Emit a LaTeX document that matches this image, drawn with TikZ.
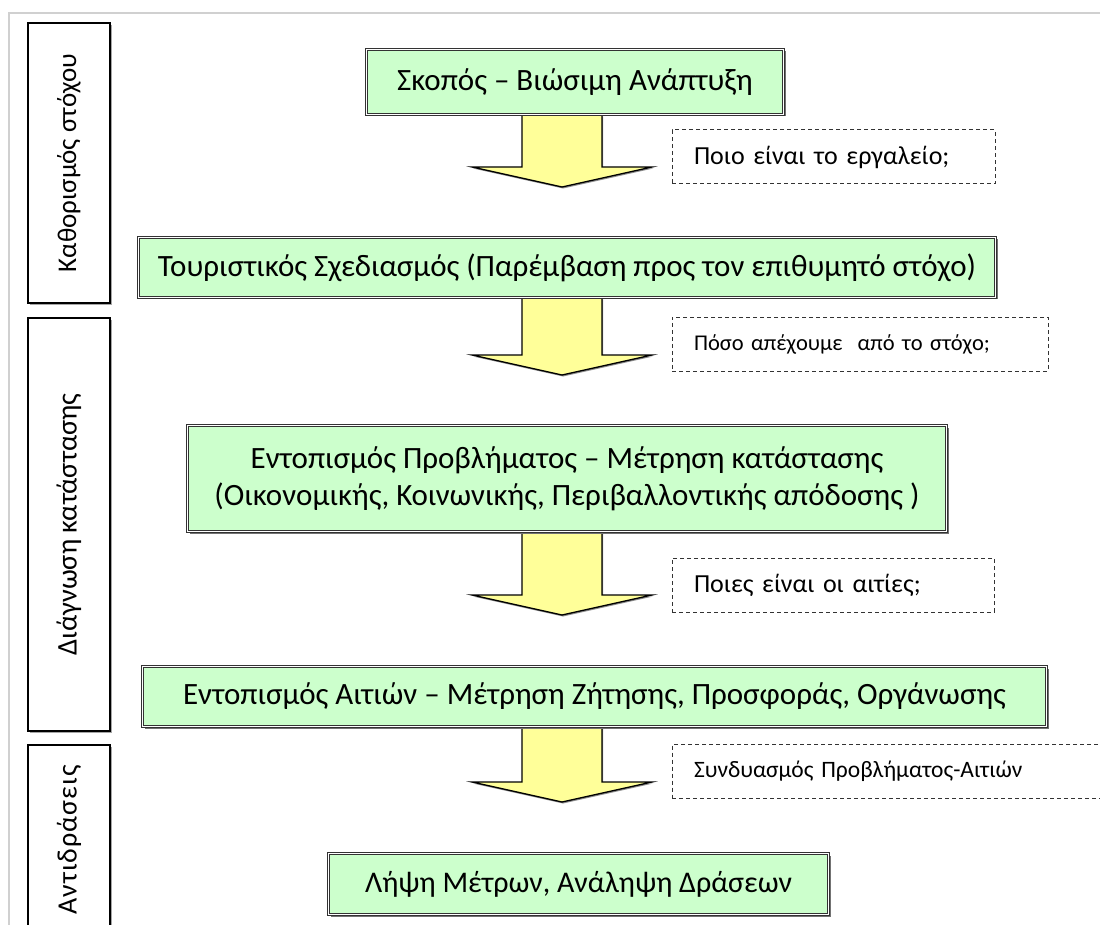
\documentclass[tikz,border=0pt]{standalone}
\usepackage{fontspec}
\setmainfont{Carlito}
\usetikzlibrary{shadows}
\pgfdeclarelayer{bg}
\pgfsetlayers{bg,main}
\definecolor{stagegreen}{RGB}{204,255,204}
\definecolor{arrowyellow}{RGB}{255,255,153}
\definecolor{framegray}{RGB}{208,208,208}
\tikzset{
	stage/.style = {rectangle, fill = stagegreen, draw = black!80, double = white, double distance = 1.2pt, line width = 0.9pt, drop shadow = {shadow xshift = 2pt, shadow yshift = -2pt, fill = black!55, opacity = 1}, font = \fontsize{31}{37}\selectfont, align = center, inner sep = 0pt},
	phase/.style = {rectangle, draw = black, line width = 2pt, fill = white, drop shadow = {shadow xshift = 2pt, shadow yshift = -2pt, fill = black!35, opacity = 1}, font = \fontsize{27}{32}\selectfont, inner sep = 0pt},
	question/.style = {rectangle, draw = black!80, line width = 1pt, dash pattern = on 4pt off 3pt, align = left, inner xsep = 22pt, inner ysep = 0pt, minimum height = 54pt, font = \fontsize{26}{31}\selectfont},
	blockarrow/.style = {fill = arrowyellow, draw = black, line width = 1.3pt, line join = miter, drop shadow = {shadow xshift = 1pt, shadow yshift = -1.5pt, fill = black!45, opacity = 1}}
}
\begin{document}
\begin{tikzpicture}[x = 1pt, y = -1pt]
	\useasboundingbox (0,0) rectangle (1100,925);
	\draw [framegray, line width = 1.5pt] (9,925) -- (9,13) -- (1100,13);

	%% phases
	\node (goal) [phase, minimum width = 82pt, minimum height = 280pt] at (69,163) {\rotatebox{90}{Καθορισμός στόχου}};
	\node (diag) [phase, minimum width = 82pt, minimum height = 413pt, font = \fontsize{28.5}{33}\selectfont] at (69,524.5) {\rotatebox{90}{Διάγνωση κατάστασης}};
	\node (react) [phase, minimum width = 82pt, minimum height = 190pt, font = \fontsize{28}{32}\selectfont\addfontfeatures{LetterSpace = 4}] at (69,840) {\rotatebox{90}{Αντιδράσεις}};

	%% nodes
	\node (s1) [stage, minimum width = 417pt, minimum height = 65pt] at (575,82) {Σκοπός – Βιώσιμη Ανάπτυξη};
	\node (s2) [stage, minimum width = 857pt, minimum height = 60pt] at (567,267.5) {Τουριστικός Σχεδιασμός (Παρέμβαση προς τον επιθυμητό στόχο)};
	\node (s3) [stage, minimum width = 759pt, minimum height = 106pt] at (567,478.5) {Εντοπισμός Προβλήματος – Μέτρηση κατάστασης\\(Οικονομικής, Κοινωνικής, Περιβαλλοντικής απόδοσης )};
	\node (s4) [stage, minimum width = 904pt, minimum height = 60pt] at (594.5,696.5) {Εντοπισμός Αιτιών – Μέτρηση Ζήτησης, Προσφοράς, Οργάνωσης};
	\node (s5) [stage, minimum width = 500pt, minimum height = 61pt, font = \fontsize{30}{36}\selectfont] at (578.5,884) {Λήψη Μέτρων, Ανάληψη Δράσεων};

	%% questions
	\node (q1) [question, text width = 279pt] at (833.5,157) {Ποιο είναι το εργαλείο;};
	\node (q2) [question, text width = 332pt, font = \fontsize{22.5}{27}\selectfont] at (860,344) {Πόσο απέχουμε~ από το στόχο;};
	\node (q3) [question, text width = 278pt] at (833,585) {Ποιες είναι οι αιτίες;};
	\node (q4) [question, text width = 394pt, font = \fontsize{23.5}{28}\selectfont] at (891,771.5) {Συνδυασμός Προβλήματος-Αιτιών};

	%% arrows
	\begin{pgfonlayer}{bg}
	\foreach \b/\y in {s1/167, s2/355, s3/595, s4/782}
		\draw [blockarrow] (\b.south -| 522,0) -- (522,\y) -- (472,\y) -- (562,\y+20) -- (652,\y) -- (602,\y) -- (\b.south -| 602,0) -- cycle;
	\end{pgfonlayer}
\end{tikzpicture}
\end{document}
